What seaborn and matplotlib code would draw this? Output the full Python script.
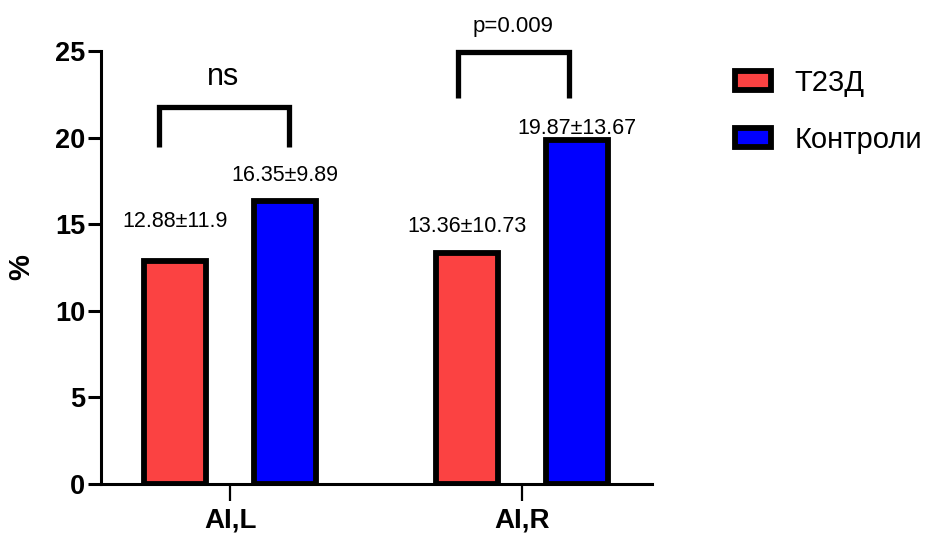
import matplotlib
matplotlib.use("Agg")
import matplotlib.pyplot as plt
from matplotlib import font_manager
import pandas as pd
import seaborn as sns

# --- data -------------------------------------------------------------
regions = ["AI,L", "AI,R"]
groups = ["Т23Д", "Контроли"]
means_t2d = [12.88, 13.36]
means_ctrl = [16.35, 19.87]
sd_t2d = [11.9, 10.73]
sd_ctrl = [9.89, 13.67]
comparisons = ["ns", "p=0.009"]
y_ticks = [0, 5, 10, 15, 20, 25]

colors = ["#FB4242", "#0000FF"]

df = pd.DataFrame({
    "region": regions * 2,
    "group": [groups[0]] * 2 + [groups[1]] * 2,
    "value": means_t2d + means_ctrl,
})

sns.set_theme(style="ticks")
installed = {f.name for f in font_manager.fontManager.ttflist}
narrow = "Liberation Sans Narrow" if "Liberation Sans Narrow" in installed else "Liberation Sans"
plt.rcParams["font.family"] = ["Liberation Sans", "DejaVu Sans"]
for key in ("text.color", "axes.labelcolor", "xtick.color", "ytick.color",
            "xtick.labelcolor", "ytick.labelcolor"):
    plt.rcParams[key] = "black"

fig = plt.figure(figsize=(9.25, 5.4), dpi=100)
ax = fig.add_axes([101 / 925, 1 - 484 / 540, 551 / 925, 433 / 540])

sns.barplot(data=df, x="region", y="value", hue="group", hue_order=groups,
            palette=colors, saturation=1, width=0.75, gap=0.435, errorbar=None,
            edgecolor="black", linewidth=4.2, ax=ax)

ax.set_xlim(-0.442, 1.445)
ax.set_ylim(0, 25)
ax.set_yticks(y_ticks)
ax.set_yticklabels([str(t) for t in y_ticks], fontsize=19.5, fontweight="bold")
ax.set_xticks(range(len(regions)))
ax.set_xticklabels(regions, fontsize=20, fontweight="bold")
ax.set_xlabel("")
ax.set_ylabel("%", fontsize=21, fontweight="bold", labelpad=14)
sns.despine(ax=ax)
for side in ("left", "bottom"):
    ax.spines[side].set_linewidth(2.2)
    ax.spines[side].set_color("black")
ax.tick_params(axis="y", length=9.5, width=2.2, pad=2)
ax.tick_params(axis="x", length=12, width=1.6, pad=5)

# mean ± SD labels above each bar
offset = 0.1875
label_y = [[15.13, 14.84], [17.84, 20.55]]
for g, (means, sds) in enumerate([(means_t2d, sd_t2d), (means_ctrl, sd_ctrl)]):
    for i, (m, s) in enumerate(zip(means, sds)):
        x = i + (offset if g else -offset)
        ax.text(x, label_y[g][i], f"{m}±{s}", ha="center", va="center",
                fontsize=15.5, family=[narrow, "DejaVu Sans"])

# significance brackets
brackets = [(-0.243, 0.202, 19.46, 21.77), (-0.219, 0.161, 22.29, 24.94)]
text_pos = [(-0.024, 23.5, 22, narrow), (-0.031, 26.4, 16, "Liberation Sans")]
for i, ((x0, x1, yb, yt), (tx, ty, fs, fam)) in enumerate(zip(brackets, text_pos)):
    ax.plot([i + x0, i + x0, i + x1, i + x1], [yb, yt, yt, yb], color="black",
            lw=3.8, solid_joinstyle="miter", solid_capstyle="butt", clip_on=False)
    ax.text(i + tx, ty, comparisons[i], ha="center", va="center",
            fontsize=fs, family=[fam, "DejaVu Sans"])

handles, labels = ax.get_legend_handles_labels()
if ax.legend_:
    ax.legend_.remove()
fig.legend(handles, labels, loc="upper left", bbox_to_anchor=(735 / 925, 1 - 69 / 540),
           frameon=False, fontsize=21, handlelength=1.25, handleheight=0.62,
           handletextpad=0.8, labelspacing=1.0, borderpad=0, borderaxespad=0)

fig.savefig("out.png", dpi=100)
